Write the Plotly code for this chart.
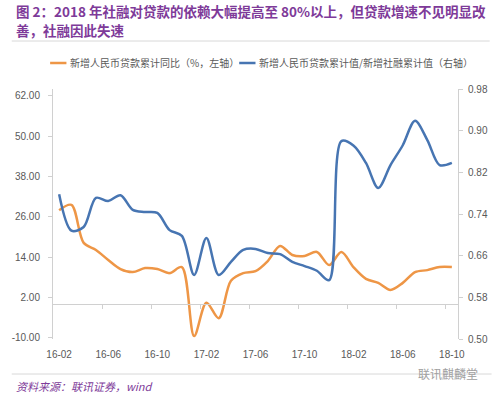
import plotly.graph_objects as go

# ---------------- data ----------------
months = ["16-02","16-03","16-04","16-05","16-06","16-07","16-08","16-09","16-10","16-11","16-12",
          "17-01","17-02","17-03","17-04","17-05","17-06","17-07","17-08","17-09","17-10","17-11","17-12",
          "18-01","18-02","18-03","18-04","18-05","18-06","18-07","18-08","18-09","18-10"]
loan_yoy = [28.0, 29.6, 18.3, 16.2, 13.2, 10.5, 9.6, 10.8, 10.5, 9.3, 11.1,
            -9.4, 0.5, -4.1, 7.0, 9.3, 9.9, 12.9, 17.4, 14.7, 14.4, 15.6, 11.7,
            15.6, 11.0, 7.6, 6.4, 4.3, 6.4, 9.6, 10.2, 11.1, 11.1]
loan_tsf_ratio = [0.778, 0.708, 0.715, 0.771, 0.765, 0.776, 0.748, 0.744, 0.742, 0.709, 0.698,
                  0.623, 0.694, 0.623, 0.648, 0.671, 0.673, 0.665, 0.663, 0.648, 0.640, 0.631, 0.613,
                  0.880, 0.871, 0.838, 0.790, 0.834, 0.872, 0.919, 0.882, 0.834, 0.838]
x_tick_labels = ["16-02","16-06","16-10","17-02","17-06","17-10","18-02","18-06","18-10"]
left_ticks = [-10, 2, 14, 26, 38, 50, 62]
left_tick_labels = ["-10.00", "2.00", "14.00", "26.00", "38.00", "50.00", "62.00"]
right_ticks = [0.50, 0.58, 0.66, 0.74, 0.82, 0.90, 0.98]
right_tick_labels = ["0.50", "0.58", "0.66", "0.74", "0.82", "0.90", "0.98"]

name_orange = "新增人民币贷款累计同比（%，左轴）"
name_blue = "新增人民币贷款累计值/新增社融累计值（右轴）"
title1 = "图 2：2018 年社融对贷款的依赖大幅提高至 80%以上，但贷款增速不见明显改"
title2 = "善，社融因此失速"
source = "资料来源：联讯证券，wind"
watermark = "联讯麒麟堂"

ORANGE = "#EE9646"
BLUE = "#4775B2"
PURPLE = "#7E3A99"
AXIS = "#D0D0D0"
TXT = "#595959"
CJK = "Noto Sans CJK SC"
NUM = "Liberation Sans"

idx = list(range(len(months)))
tick_idx = [idx[months.index(m)] for m in x_tick_labels]
sep_idx = [t + 3.5 for t in tick_idx[:-1]]

W, H = 500, 396
L, R, T, B = 43, 35, 89, 57
pw, ph = W - L - R, H - T - B

def px(x):
    return (x - L) / pw

def py(y):
    return (H - B - y) / ph

left_range = [-10.30, 64.08]
right_range = [0.50, 0.98]
zero_pos = (0 - left_range[0]) / (left_range[1] - left_range[0])

fig = go.Figure()
fig.add_trace(go.Scatter(x=idx, y=loan_yoy, mode="lines", name=name_orange,
                         line=dict(color=ORANGE, width=2.5, shape="spline", smoothing=0.9),
                         yaxis="y"))
fig.add_trace(go.Scatter(x=idx, y=loan_tsf_ratio, mode="lines", name=name_blue,
                         line=dict(color=BLUE, width=2.5, shape="spline", smoothing=0.9),
                         yaxis="y2"))
# invisible trace on the crossing axis
fig.add_trace(go.Scatter(x=[idx[0]], y=[None], xaxis="x2", yaxis="y", showlegend=False,
                         hoverinfo="skip"))

fig.update_layout(
    width=W, height=H,
    margin=dict(l=L, r=R, t=T, b=B),
    paper_bgcolor="white", plot_bgcolor="white",
    showlegend=False,
    xaxis=dict(range=[-0.5, 32.5], tickvals=tick_idx, ticktext=x_tick_labels,
               showline=False, showgrid=False, zeroline=False, ticks="",
               ticklabelstandoff=8,
               tickfont=dict(family=NUM, size=10, color=TXT)),
    xaxis2=dict(range=[-0.5, 32.5], overlaying="x", anchor="free", position=zero_pos,
                side="bottom", showline=True, linecolor=AXIS, linewidth=1,
                tickvals=sep_idx, ticks="outside", ticklen=4, tickcolor=AXIS,
                showticklabels=False, showgrid=False, zeroline=False),
    yaxis=dict(range=left_range, tickvals=left_ticks, ticktext=left_tick_labels,
               showline=True, linecolor=AXIS, linewidth=1, ticks="outside", ticklen=4,
               tickcolor=AXIS, showgrid=False, zeroline=False,
               ticklabelstandoff=6,
               tickfont=dict(family=NUM, size=10, color=TXT)),
    yaxis2=dict(range=right_range, tickvals=right_ticks, ticktext=right_tick_labels,
                overlaying="y", side="right", showline=True, linecolor=AXIS, linewidth=1,
                ticks="outside", ticklen=4, tickcolor=AXIS, showgrid=False, zeroline=False,
                ticklabelstandoff=3,
                tickfont=dict(family=NUM, size=10, color=TXT)),
)

shapes = [
    dict(type="line", xref="paper", yref="paper", x0=px(0), x1=px(498), y0=py(41), y1=py(41),
         line=dict(color="#D8D8D8", width=1)),
    dict(type="line", xref="paper", yref="paper", x0=px(0), x1=px(500), y0=py(374), y1=py(374),
         line=dict(color="#D8D8D8", width=1)),
    dict(type="line", xref="paper", yref="paper", x0=px(40), x1=px(57), y0=py(63), y1=py(63),
         line=dict(color=ORANGE, width=2.5)),
    dict(type="line", xref="paper", yref="paper", x0=px(237), x1=px(254), y0=py(63), y1=py(63),
         line=dict(color=BLUE, width=2.5)),
]
fig.update_layout(shapes=shapes)

ann = [
    dict(text=f"<b>{title1}</b>", x=px(2), y=py(11), font=dict(family=CJK, size=13.5, color=PURPLE)),
    dict(text=f"<b>{title2}</b>", x=px(2), y=py(30), font=dict(family=CJK, size=13.5, color=PURPLE)),
    dict(text=name_orange, x=px(59), y=py(63), font=dict(family=CJK, size=10, color=TXT)),
    dict(text=name_blue, x=px(256), y=py(63), font=dict(family=CJK, size=10, color=TXT)),
    dict(text=source, x=px(2), y=py(386), font=dict(family=CJK, size=11, color=PURPLE, style="italic")),
    dict(text=watermark, x=px(421), y=py(373), font=dict(family=CJK, size=12, color="#A0A0A0")),
]
for a in ann:
    a.update(xref="paper", yref="paper", xanchor="left", yanchor="middle", showarrow=False)
fig.update_layout(annotations=ann)

fig.write_html("out.html", config={"displayModeBar": False},
               post_script="document.body.style.margin='0';")
